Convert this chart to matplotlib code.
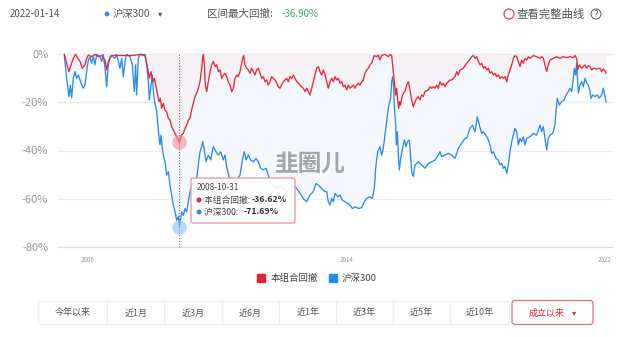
import matplotlib
matplotlib.use("Agg")
import matplotlib.pyplot as plt
from matplotlib.patches import Rectangle, FancyBboxPatch, Circle

plt.rcParams['font.family'] = ['Noto Sans CJK SC', 'DejaVu Sans']

# drawdown series (decimal year, %)
red_t = [2005.267, 2005.339, 2005.411, 2005.473, 2005.546, 2005.618, 2005.680, 2005.752, 2005.824, 2005.907,
         2005.958, 2006.010, 2006.113, 2006.216, 2006.320, 2006.423, 2006.526, 2006.578, 2006.629, 2006.732,
         2007.042, 2007.352, 2007.661, 2007.764, 2007.847, 2007.899, 2007.950, 2008.002, 2008.053, 2008.105,
         2008.157, 2008.198, 2008.239, 2008.280, 2008.332, 2008.384, 2008.435, 2008.487, 2008.539, 2008.590,
         2008.642, 2008.693, 2008.745, 2008.796, 2008.830, 2008.900, 2008.951, 2009.003, 2009.054, 2009.106,
         2009.158, 2009.210, 2009.261, 2009.313, 2009.364, 2009.416, 2009.468, 2009.519, 2009.550, 2009.571,
         2009.602, 2009.633, 2009.674, 2009.726, 2009.778, 2009.829, 2009.881, 2009.932, 2009.984, 2010.035,
         2010.087, 2010.138, 2010.190, 2010.242, 2010.293, 2010.345, 2010.396, 2010.448, 2010.500, 2010.551,
         2010.603, 2010.654, 2010.706, 2010.758, 2010.789, 2010.820, 2010.861, 2010.912, 2010.964, 2011.016,
         2011.067, 2011.119, 2011.170, 2011.222, 2011.274, 2011.325, 2011.377, 2011.429, 2011.480, 2011.532,
         2011.583, 2011.635, 2011.686, 2011.738, 2011.790, 2011.841, 2011.893, 2011.944, 2011.996, 2012.048,
         2012.099, 2012.151, 2012.202, 2012.254, 2012.306, 2012.357, 2012.409, 2012.461, 2012.512, 2012.564,
         2012.615, 2012.667, 2012.719, 2012.770, 2012.822, 2012.873, 2012.925, 2012.976, 2013.028, 2013.080,
         2013.131, 2013.183, 2013.234, 2013.286, 2013.337, 2013.389, 2013.440, 2013.492, 2013.543, 2013.595,
         2013.647, 2013.698, 2013.750, 2013.801, 2013.853, 2013.905, 2013.956, 2014.008, 2014.059, 2014.111,
         2014.163, 2014.214, 2014.266, 2014.317, 2014.369, 2014.421, 2014.472, 2014.524, 2014.575, 2014.627,
         2014.679, 2014.730, 2014.782, 2014.833, 2014.864, 2014.937, 2014.988, 2015.040, 2015.091, 2015.195,
         2015.298, 2015.350, 2015.401, 2015.432, 2015.463, 2015.494, 2015.525, 2015.556, 2015.587, 2015.618,
         2015.649, 2015.680, 2015.711, 2015.762, 2015.814, 2015.866, 2015.917, 2015.969, 2016.020, 2016.072,
         2016.124, 2016.175, 2016.227, 2016.278, 2016.330, 2016.381, 2016.433, 2016.536, 2016.588, 2016.639,
         2016.691, 2016.743, 2016.794, 2016.846, 2016.897, 2016.949, 2016.999, 2017.052, 2017.104, 2017.155,
         2017.207, 2017.259, 2017.310, 2017.362, 2017.414, 2017.465, 2017.517, 2017.620, 2017.723, 2017.806,
         2017.878, 2017.930, 2017.981, 2018.033, 2018.085, 2018.136, 2018.188, 2018.240, 2018.291, 2018.343,
         2018.394, 2018.446, 2018.497, 2018.549, 2018.601, 2018.652, 2018.704, 2018.755, 2018.807, 2018.859,
         2018.910, 2018.962, 2019.014, 2019.065, 2019.117, 2019.168, 2019.220, 2019.271, 2019.323, 2019.375,
         2019.426, 2019.478, 2019.529, 2019.581, 2019.633, 2019.684, 2019.787, 2019.891, 2019.994, 2020.045,
         2020.097, 2020.149, 2020.200, 2020.252, 2020.303, 2020.407, 2020.510, 2020.613, 2020.716, 2020.820,
         2020.923, 2021.026, 2021.077, 2021.129, 2021.160, 2021.212, 2021.284, 2021.336, 2021.387, 2021.439,
         2021.490, 2021.542, 2021.594, 2021.645, 2021.748, 2021.851, 2021.903, 2021.955, 2022.006, 2022.037]
red_v = [0, -3.7, -7.2, -4.4, -1.7, 0, -1.7, -3.0, -5.8, -4.4,
         -1.7, -0.3, -1.0, 0, -1.0, -0.5, -2.4, -6.5, -3.0, -0.5,
         -0.5, -0.5, 0, -0.5, -5.8, -10.0, -7.2, -11.4, -10.0, -13.5,
         -16.9, -19.7, -18.3, -22.5, -20.4, -23.2, -23.9, -26.6, -27.3, -30.1,
         -31.5, -32.9, -34.3, -35.6, -36.62, -33.5, -32.9, -30.8, -29.5, -27.5,
         -26.6, -23.0, -20.4, -17.6, -16.2, -14.1, -11.4, -5.8, -1.7, 0,
         -4.4, -12.8, -15.5, -11.4, -7.2, -4.4, -3.0, -5.1, -4.4, -7.2,
         -6.5, -10.0, -8.6, -7.9, -9.3, -11.4, -12.8, -15.5, -14.1, -10.0,
         -8.6, -9.3, -7.2, -3.7, -1.7, -0.5, -4.4, -5.8, -6.5, -7.9,
         -5.8, -7.2, -8.6, -6.5, -5.8, -7.9, -10.0, -9.3, -11.4, -10.7,
         -12.8, -11.4, -9.3, -10.0, -10.7, -12.0, -13.5, -14.1, -12.8, -11.4,
         -10.7, -10.0, -11.4, -9.3, -10.0, -8.6, -10.0, -11.4, -12.0, -12.8,
         -13.5, -14.1, -15.5, -14.1, -15.5, -16.9, -14.1, -11.4, -8.6, -5.8,
         -5.1, -7.2, -8.6, -6.5, -8.5, -11.4, -14.1, -11.4, -10.0, -11.4,
         -9.3, -10.7, -10.0, -12.0, -11.4, -13.5, -12.8, -14.8, -12.8, -14.1,
         -13.5, -12.8, -14.1, -12.8, -12.0, -12.8, -11.4, -10.7, -7.9, -6.5,
         -5.8, -4.4, -3.7, -1.7, -0.5, -1.0, -0.3, -2.4, -0.5, 0,
         -1.0, 0, -0.5, -4.4, -8.6, -12.8, -16.9, -14.1, -19.0, -22.5,
         -19.7, -21.1, -18.3, -16.2, -15.5, -12.8, -11.4, -14.8, -19.0, -21.8,
         -19.7, -18.3, -17.6, -19.0, -16.9, -17.6, -15.5, -14.8, -13.5, -14.1,
         -13.5, -14.1, -12.8, -14.1, -11.4, -12.8, -12.1, -13.5, -12.1, -11.4,
         -10.7, -10.7, -10.0, -9.3, -7.2, -8.6, -6.5, -5.8, -3.7, -2.4,
         -1.0, -0.5, -1.7, -1.0, -3.0, -4.4, -3.7, -5.8, -5.1, -6.5,
         -5.8, -7.9, -7.2, -8.6, -7.9, -9.3, -8.6, -10.0, -9.3, -10.0,
         -9.3, -11.4, -8.6, -6.5, -4.4, -1.7, -0.5, -1.0, -3.0, -5.1,
         -2.4, -3.7, -1.7, -2.4, -1.0, -1.7, -0.5, -1.0, -1.7, -1.0,
         -1.7, -4.4, -7.2, -4.4, -2.4, -1.7, -1.0, -1.7, -1.0, -1.4,
         -1.0, -1.4, -0.5, -1.7, -6.5, -4.4, -5.8, -5.1, -4.4, -5.8,
         -4.7, -5.1, -6.5, -5.8, -6.1, -5.8, -7.2, -6.1, -6.9, -7.9]

blue_t = [2005.267, 2005.339, 2005.411, 2005.453, 2005.494, 2005.546, 2005.597, 2005.649, 2005.700, 2005.783,
          2005.855, 2005.907, 2005.958, 2006.010, 2006.062, 2006.113, 2006.165, 2006.216, 2006.268, 2006.371,
          2006.423, 2006.474, 2006.526, 2006.578, 2006.629, 2006.681, 2006.732, 2006.836, 2006.887, 2006.990,
          2007.042, 2007.094, 2007.145, 2007.197, 2007.300, 2007.372, 2007.434, 2007.475, 2007.506, 2007.558,
          2007.610, 2007.713, 2007.764, 2007.816, 2007.868, 2007.899, 2007.950, 2007.991, 2008.033, 2008.074,
          2008.126, 2008.177, 2008.229, 2008.260, 2008.301, 2008.332, 2008.384, 2008.435, 2008.487, 2008.539,
          2008.590, 2008.642, 2008.693, 2008.745, 2008.796, 2008.830, 2008.900, 2008.951, 2009.003, 2009.054,
          2009.106, 2009.158, 2009.209, 2009.313, 2009.364, 2009.416, 2009.468, 2009.519, 2009.550, 2009.592,
          2009.653, 2009.726, 2009.798, 2009.880, 2009.963, 2010.035, 2010.107, 2010.190, 2010.242, 2010.293,
          2010.376, 2010.500, 2010.603, 2010.706, 2010.789, 2010.840, 2010.892, 2010.964, 2011.036, 2011.119,
          2011.201, 2011.274, 2011.346, 2011.429, 2011.511, 2011.583, 2011.635, 2011.738, 2011.841, 2011.944,
          2012.048, 2012.151, 2012.254, 2012.357, 2012.461, 2012.564, 2012.667, 2012.770, 2012.873, 2012.976,
          2013.059, 2013.131, 2013.234, 2013.337, 2013.389, 2013.440, 2013.492, 2013.543, 2013.595, 2013.647,
          2013.729, 2013.801, 2013.874, 2013.956, 2014.039, 2014.111, 2014.183, 2014.266, 2014.369, 2014.472,
          2014.555, 2014.627, 2014.730, 2014.802, 2014.864, 2014.906, 2014.968, 2015.040, 2015.091, 2015.143,
          2015.195, 2015.246, 2015.298, 2015.329, 2015.370, 2015.401, 2015.432, 2015.463, 2015.494, 2015.525,
          2015.546, 2015.577, 2015.608, 2015.639, 2015.680, 2015.731, 2015.793, 2015.845, 2015.896, 2015.948,
          2015.979, 2016.020, 2016.072, 2016.124, 2016.175, 2016.227, 2016.330, 2016.433, 2016.536, 2016.639,
          2016.743, 2016.846, 2016.897, 2016.949, 2017.052, 2017.155, 2017.259, 2017.362, 2017.465, 2017.568,
          2017.671, 2017.723, 2017.827, 2017.909, 2017.981, 2018.054, 2018.116, 2018.188, 2018.240, 2018.322,
          2018.394, 2018.446, 2018.497, 2018.549, 2018.632, 2018.704, 2018.755, 2018.807, 2018.859, 2018.910,
          2018.962, 2019.014, 2019.065, 2019.117, 2019.168, 2019.220, 2019.271, 2019.323, 2019.375, 2019.426,
          2019.478, 2019.529, 2019.581, 2019.684, 2019.787, 2019.891, 2019.994, 2020.045, 2020.097, 2020.149,
          2020.200, 2020.252, 2020.303, 2020.386, 2020.458, 2020.489, 2020.530, 2020.592, 2020.665, 2020.737,
          2020.799, 2020.871, 2020.923, 2020.974, 2021.026, 2021.057, 2021.098, 2021.129, 2021.150, 2021.181,
          2021.232, 2021.284, 2021.336, 2021.387, 2021.439, 2021.490, 2021.542, 2021.573, 2021.624, 2021.697,
          2021.769, 2021.831, 2021.903, 2021.955, 2022.006, 2022.037]
blue_v = [-0.5, -10.0, -17.6, -12.8, -18.0, -10.0, -7.2, -10.0, -8.6, -12.0,
          -14.1, -12.8, -7.2, -2.4, -1.0, -3.7, -1.0, -4.4, 0, -1.0,
          -3.0, 0, -5.8, -13.5, -4.4, -1.0, -0.5, -1.7, 0, -5.8,
          -1.7, -9.3, -3.0, 0, -1.0, -4.4, -15.5, -4.4, -16.9, -1.7,
          0, -0.5, 0, -4.4, -11.4, -19.0, -12.8, -8.6, -16.9, -20.4,
          -23.9, -31.5, -37.7, -33.6, -39.1, -41.9, -44.7, -50.2, -48.8, -54.4,
          -58.5, -62.7, -65.5, -69.0, -67.5, -71.69, -65.5, -67.0, -64.1, -65.5,
          -61.3, -57.1, -54.4, -53.0, -51.6, -46.0, -40.5, -38.4, -36.3, -39.1,
          -44.7, -41.9, -43.9, -38.4, -40.5, -41.9, -40.5, -43.9, -41.9, -46.7,
          -51.6, -51.6, -52.3, -50.2, -43.3, -40.5, -43.9, -41.9, -43.9, -44.7,
          -43.3, -44.7, -47.4, -48.1, -47.4, -50.2, -53.0, -54.4, -55.8, -54.4,
          -55.8, -57.1, -55.8, -54.4, -55.8, -57.8, -60.0, -61.3, -58.5, -57.1,
          -53.7, -54.4, -55.8, -57.1, -57.1, -61.3, -62.7, -59.9, -61.3, -57.8,
          -59.2, -58.5, -60.6, -61.3, -62.0, -62.7, -64.1, -63.4, -64.1, -63.8,
          -61.3, -59.9, -59.2, -59.9, -55.8, -47.4, -40.5, -38.4, -41.9, -39.1,
          -33.6, -28.0, -22.5, -20.4, -18.3, -11.4, -9.3, -14.1, -23.9, -29.4,
          -37.7, -32.2, -41.9, -48.1, -43.3, -39.8, -35.6, -38.4, -36.3, -35.6,
          -40.5, -48.8, -50.9, -46.0, -45.4, -44.7, -46.0, -47.4, -45.4, -44.7,
          -44.0, -41.9, -40.5, -42.6, -41.9, -41.2, -41.9, -43.3, -39.1, -37.0,
          -35.0, -34.9, -30.8, -29.4, -32.2, -26.0, -29.4, -32.9, -32.2, -33.6,
          -35.6, -37.7, -41.2, -40.5, -43.3, -44.0, -46.0, -45.4, -47.4, -46.7,
          -49.5, -46.0, -40.5, -36.3, -33.6, -30.8, -32.2, -37.7, -34.9, -36.3,
          -34.3, -37.7, -34.9, -34.3, -32.9, -33.6, -29.4, -32.2, -30.1, -34.9,
          -39.8, -34.9, -33.6, -32.9, -29.4, -23.9, -18.3, -21.1, -19.7, -19.0,
          -16.9, -15.5, -14.1, -15.5, -10.0, -5.8, -8.6, -3.7, -9.3, -16.2,
          -12.8, -11.4, -13.5, -10.0, -12.0, -12.8, -15.5, -18.3, -16.9, -17.6,
          -16.9, -18.3, -16.9, -14.1, -17.6, -19.7]

yticks = [0, -20, -40, -60, -80]
ytick_labels = ['0%', '-20%', '-40%', '-60%', '-80%']
xticks = [2006, 2014, 2022]
xtick_labels = ['2006', '2014', '2022']

sel_date = '2008-10-31'
sel_t = 2008.830
sel_red = -36.62
sel_blue = -71.69

buttons = ['今年以来', '近1月', '近3月', '近6月', '近1年', '近3年', '近5年', '近10年']

RED = '#e8283a'
BLUE = '#2a8cf0'
W, H = 640, 337

fig = plt.figure(figsize=(6.4, 3.37), dpi=100)

# page overlay in pixel coords
ui = fig.add_axes([0, 0, 1, 1], zorder=0)
ui.set_xlim(0, W)
ui.set_ylim(H, 0)
ui.axis('off')

# chart axes: x 58..612 px, y 54.3..246.7 px
x0, x1 = 58, 612
y0, y1 = 54.3, 246.7
ax = fig.add_axes([x0 / W, 1 - y1 / H, (x1 - x0) / W, (y1 - y0) / H], zorder=1)
ax.patch.set_alpha(0)
ppy = 32.3
ax.set_xlim(2006 + (x0 - 88) / ppy, 2006 + (x1 - 88) / ppy)
ax.set_ylim(-80, 0)

ax.fill_between(blue_t, blue_v, 0, color='#f4f8fd', lw=0, zorder=1)
ax.fill_between(red_t, red_v, 0, color='#f6f1f4', lw=0, zorder=2)
for v in yticks:
    ax.axhline(v, color='#ebebeb' if v != -80 else '#dcdce4', lw=0.9, zorder=0, clip_on=False)
ax.plot(blue_t, blue_v, color=BLUE, lw=0.95, zorder=3, clip_on=False)
ax.plot(red_t, red_v, color=RED, lw=0.95, zorder=4, clip_on=False)

ax.axvline(sel_t, color='#666666', lw=0.8, ls=(0, (1, 1.5)), zorder=5, clip_on=False)
ax.scatter([sel_t], [sel_red], s=110, color='#f08f98', alpha=0.6, lw=0, zorder=6)
ax.scatter([sel_t], [sel_blue], s=110, color='#8cc0f4', alpha=0.6, lw=0, zorder=6)

for s in ax.spines.values():
    s.set_visible(False)
ax.set_yticks(yticks)
ax.set_yticklabels(ytick_labels, fontsize=8, color='#9a9a9a')
ax.set_xticks(xticks)
ax.set_xticklabels(xtick_labels, fontsize=4.5, color='#9a9a9a')
ax.tick_params(axis='y', length=0, pad=7)
ax.tick_params(axis='x', length=0, pad=7)

# watermark
ax.text(0.455, 0.43, '韭圈儿', transform=ax.transAxes, fontsize=17, fontweight='bold',
        color='#8a8a8a', alpha=0.75, ha='center', va='center', zorder=2, style='italic')

# tooltip
tip = fig.add_axes([0, 0, 1, 1], zorder=2)
tip.set_xlim(0, W)
tip.set_ylim(H, 0)
tip.axis('off')
tip.add_patch(FancyBboxPatch((191, 178), 104, 45, boxstyle='round,pad=0,rounding_size=2',
                             fc='white', ec='#e58a90', lw=0.9, alpha=0.92))
tip.text(197, 187.5, sel_date, fontsize=6, color='#444444', va='center')
tip.add_patch(Circle((199, 200), 1.8, color=RED))
tip.text(204, 200, '本组合回撤: ', fontsize=6.3, color='#444444', va='center')
tip.text(252, 200, '%.2f%%' % sel_red, fontsize=6.3, color='#333333', va='center', fontweight='bold')
tip.add_patch(Circle((199, 212), 1.8, color=BLUE))
tip.text(204, 212, '沪深300: ', fontsize=6.3, color='#444444', va='center')
tip.text(244, 212, '%.2f%%' % sel_blue, fontsize=6.3, color='#333333', va='center', fontweight='bold')

# header
ui.text(10, 14, '2022-01-14', fontsize=7, va='center', color='#555555')
ui.add_patch(Circle((107, 14), 1.6, color=BLUE))
ui.text(113, 14, '沪深300', fontsize=7.4, va='center', color='#555555')
ui.text(158, 14, '▾', fontsize=6, va='center', color='#555555', family=['DejaVu Sans'])
ui.text(207, 14, '区间最大回撤:', fontsize=7.6, va='center', color='#555555')
ui.text(282, 14, '-36.90%', fontsize=7, va='center', color='#3aa66a')
ui.add_patch(Circle((509, 14), 5, fc='none', ec='#e8283a', lw=0.8))
ui.text(517, 14, '查看完整曲线', fontsize=8.2, va='center', color='#555555')
ui.add_patch(Circle((596, 14), 5, fc='none', ec='#555555', lw=0.7))
ui.text(596, 14.3, '?', fontsize=6, ha='center', va='center', color='#555555', family=['DejaVu Sans'])

# legend
ui.add_patch(Rectangle((257, 274), 7.5, 8, color='#e8202a'))
ui.text(271, 278, '本组合回撤', fontsize=6.8, va='center', color='#444444')
ui.add_patch(Rectangle((329, 274), 7.5, 8, color='#1e8ff5'))
ui.text(342, 278, '沪深300', fontsize=6.8, va='center', color='#444444')

# range buttons
ui.add_patch(FancyBboxPatch((38.5, 301.5), 471, 23, boxstyle='round,pad=0,rounding_size=2',
                            fc='white', ec='#ececec', lw=0.8))
edges = [38.5, 107.3, 164.3, 221.7, 279.3, 336, 392.7, 450, 509.5]
for i, lab in enumerate(buttons):
    if i > 0:
        ui.plot([edges[i], edges[i]], [302, 324], color='#ececec', lw=0.8)
    ui.text((edges[i] + edges[i + 1]) / 2, 313, lab, fontsize=6.5, ha='center', va='center',
            color='#555555')
ui.add_patch(FancyBboxPatch((512, 300.5), 81, 24, boxstyle='round,pad=0,rounding_size=3',
                            fc='white', ec='#ef6b75', lw=0.9))
ui.text(547, 313, '成立以来', fontsize=6.5, ha='center', va='center', color='#e8283a')
ui.text(574, 313, '▾', fontsize=6, ha='center', va='center', color='#e8283a', family=['DejaVu Sans'])

fig.savefig('out.png', dpi=100)
